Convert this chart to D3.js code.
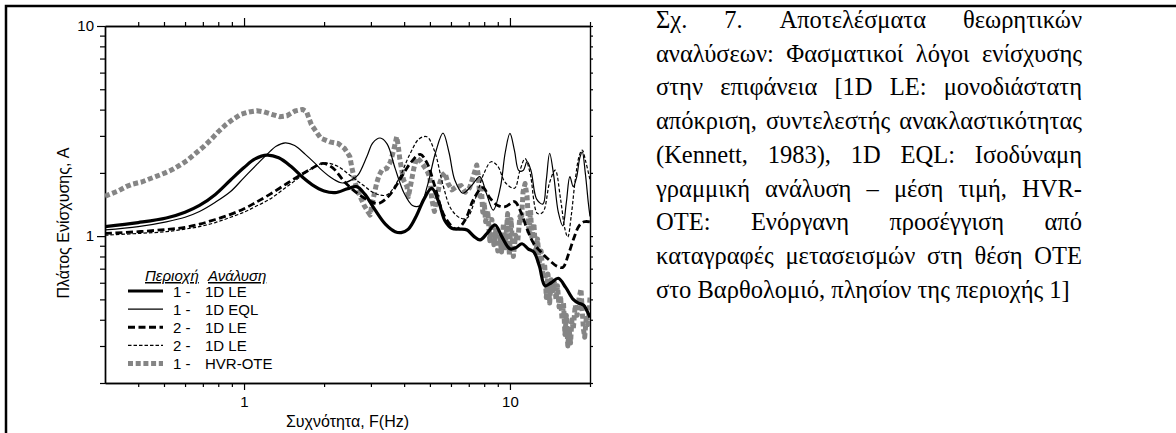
<!DOCTYPE html>
<html>
<head>
<meta charset="utf-8">
<script src="https://cdn.jsdelivr.net/npm/d3@7"></script>
<style>
  body { margin: 0; background: #fff; }
  svg { display: block; }
</style>
</head>
<body>
<svg id="fig" width="1176" height="433"></svg>
<script>
// ---- data: frequency (Hz), amplification A ----
const xDomain = [0.3, 20];
const yDomain = [0.2, 10];
const xMajor = [1, 10];
const yMajor = [1, 10];
const xMinor = [0.4, 0.5, 0.6, 0.7, 0.8, 0.9, 2, 3, 4, 5, 6, 7, 8, 9, 20];
const yMinor = [0.2, 0.3, 0.4, 0.5, 0.6, 0.7, 0.8, 0.9, 2, 3, 4, 5, 6, 7, 8, 9];

// Region 1, 1D LE
const le1 = [[0.30,1.11],[0.40,1.16],[0.51,1.22],[0.60,1.30],[0.68,1.40],[0.78,1.58],[0.89,1.85],[1.00,2.12],[1.10,2.33],[1.22,2.43],[1.35,2.36],[1.50,2.15],[1.65,1.92],[1.80,1.76],[2.00,1.64],[2.20,1.61],[2.45,1.68],[2.65,1.72],[2.85,1.58],[3.10,1.34],[3.40,1.14],[3.70,1.05],[3.90,1.04],[4.15,1.08],[4.45,1.25],[4.75,1.50],[5.08,1.69],[5.40,1.45],[5.70,1.18],[6.04,1.09],[6.45,1.08],[6.90,1.07],[7.30,1.00],[7.72,0.96],[8.20,1.03],[8.79,1.13],[9.30,1.00],[10.0,0.87],[10.5,0.88],[11.1,0.92],[11.7,0.87],[12.3,0.84],[12.9,0.72],[13.55,0.58],[14.3,0.60],[15.2,0.63],[16.2,0.57],[17.3,0.50],[18.1,0.48],[18.9,0.47],[19.5,0.44],[20.0,0.41]];

// Region 1, 1D EQL
const eql1 = [[0.30,1.07],[0.40,1.11],[0.51,1.17],[0.60,1.23],[0.68,1.31],[0.78,1.45],[0.89,1.63],[1.00,1.90],[1.12,2.20],[1.22,2.45],[1.32,2.68],[1.43,2.78],[1.55,2.70],[1.70,2.45],[1.85,2.22],[1.96,2.06],[2.15,1.88],[2.35,1.79],[2.55,1.86],[2.68,1.95],[2.90,2.40],[3.05,2.78],[3.25,2.93],[3.45,2.75],[3.70,2.10],[4.00,1.60],[4.30,1.40],[4.59,1.40],[4.90,1.75],[5.25,2.50],[5.60,3.09],[5.90,2.50],[6.20,1.85],[6.65,1.60],[7.20,1.75],[7.70,1.92],[8.15,1.60],[8.65,1.33],[9.20,1.70],[9.60,2.50],[10.0,3.08],[10.4,2.55],[10.8,2.05],[11.2,2.05],[11.6,2.26],[12.0,2.05],[12.6,1.50],[13.3,1.42],[13.7,1.85],[14.1,2.48],[14.6,1.95],[15.2,1.30],[15.8,1.12],[16.3,1.45],[16.8,1.92],[17.3,1.72],[17.8,1.90],[18.3,2.35],[18.7,2.52],[19.2,2.00],[19.7,1.45],[20.0,1.24]];

// Region 2, 1D LE (first model)
const le2a = [[0.30,1.03],[0.40,1.05],[0.51,1.076],[0.60,1.10],[0.68,1.14],[0.78,1.20],[0.89,1.27],[1.00,1.35],[1.10,1.44],[1.25,1.58],[1.45,1.78],[1.66,1.98],[1.80,2.10],[1.98,2.22],[2.15,2.12],[2.40,1.80],[2.70,1.58],[3.00,1.46],[3.20,1.43],[3.50,1.55],[3.85,1.85],[4.25,2.25],[4.60,2.45],[4.90,2.20],[5.20,1.75],[5.70,1.23],[6.30,1.08],[6.80,1.20],[7.30,1.50],[7.90,1.70],[8.40,1.52],[9.00,1.40],[9.60,1.38],[10.4,1.46],[11.0,1.30],[11.6,1.08],[12.3,0.92],[13.2,0.83],[14.2,0.76],[15.0,0.72],[15.8,0.71],[16.6,0.82],[17.4,0.98],[18.2,1.12],[19.0,1.17],[20.0,1.17]];

// Region 2, 1D LE (second model)
const le2b = [[0.30,1.01],[0.40,1.03],[0.51,1.05],[0.60,1.08],[0.68,1.11],[0.78,1.16],[0.89,1.23],[1.00,1.30],[1.10,1.38],[1.25,1.50],[1.45,1.72],[1.66,1.95],[1.85,2.15],[2.02,2.23],[2.25,2.15],[2.50,1.95],[2.80,1.75],[3.10,1.60],[3.44,1.57],[3.80,1.85],[4.20,2.45],[4.55,2.90],[4.87,2.97],[5.20,2.55],[5.60,1.75],[6.00,1.35],[6.50,1.22],[6.90,1.22],[7.40,1.50],[8.00,2.00],[8.50,2.26],[9.00,2.15],[9.60,1.80],[10.4,1.69],[10.9,2.05],[11.4,2.34],[11.9,2.00],[12.7,1.28],[13.3,1.30],[14.1,1.80],[14.8,2.06],[15.5,1.50],[16.1,1.08],[16.5,0.99],[17.0,1.25],[17.6,1.85],[18.2,2.40],[18.7,2.57],[19.3,2.25],[20.0,1.85]];

// Region 1, HVR-OTE (aftershock records)
const hvr = [[0.30,1.55],[0.336,1.64],[0.36,1.72],[0.382,1.77],[0.412,1.81],[0.44,1.87],[0.47,1.93],[0.505,2.00],[0.54,2.08],[0.575,2.18],[0.614,2.30],[0.658,2.48],[0.703,2.66],[0.751,2.88],[0.80,3.14],[0.856,3.40],[0.909,3.60],[0.974,3.80],[1.044,3.90],[1.116,3.95],[1.19,3.90],[1.27,3.80],[1.36,3.70],[1.45,3.74],[1.555,3.94],[1.66,4.01],[1.72,3.90],[1.79,3.40],[1.94,2.93],[2.10,2.81],[2.26,2.76],[2.39,2.61],[2.50,2.39],[2.54,2.14],[2.58,1.95],[2.61,1.81],[2.72,1.56],[2.83,1.40],[2.93,1.30],[2.98,1.26],[3.04,1.45],[3.10,1.62],[3.15,1.78],[3.22,1.95],[3.30,2.06],[3.44,2.10],[3.55,2.25],[3.65,2.55],[3.75,2.97],[3.80,2.70],[3.85,2.34],[3.92,2.06],[3.98,1.85],[4.10,1.72],[4.15,1.54],[4.25,1.80],[4.35,2.10],[4.46,2.36],[4.60,2.28],[4.75,2.15],[4.90,2.02],[5.00,1.90],[5.08,1.50],[5.20,1.31],[5.30,1.50],[5.45,1.80],[5.60,1.96],[5.70,2.00],[5.85,1.78],[6.05,1.66],[6.30,1.72],[6.55,1.74],[6.80,1.62],[7.05,1.70],[7.30,1.95],[7.50,2.18],[7.60,1.95],[7.70,1.55],[7.80,1.75],[7.90,1.30],[8.00,1.45],[8.10,1.17],[8.25,1.32],[8.40,0.95],[8.55,1.20],[8.70,0.91],[8.85,1.07],[9.00,0.85],[9.15,0.99],[9.30,0.84],[9.45,1.15],[9.60,0.88],[9.80,1.28],[9.95,0.81],[10.1,1.20],[10.3,0.80],[10.5,1.01],[10.7,0.95],[10.9,1.24],[11.05,1.19],[11.2,1.62],[11.4,1.78],[11.6,1.54],[11.8,1.03],[11.95,1.33],[12.1,0.97],[12.3,1.15],[12.5,0.83],[12.7,0.97],[12.9,0.74],[13.1,0.85],[13.3,0.66],[13.5,0.74],[13.7,0.51],[13.9,0.66],[14.1,0.48],[14.3,0.62],[14.5,0.55],[14.7,0.60],[14.9,0.50],[15.1,0.58],[15.3,0.46],[15.5,0.52],[15.7,0.40],[15.9,0.48],[16.1,0.34],[16.3,0.42],[16.5,0.30],[16.7,0.36],[16.9,0.31],[17.1,0.40],[17.3,0.36],[17.6,0.47],[17.9,0.42],[18.2,0.51],[18.5,0.56],[18.7,0.44],[18.9,0.36],[19.1,0.33],[19.4,0.42],[19.7,0.38],[20.0,0.51]];

// legend entries
const legendRegion = ["1", "1", "2", "2", "1"];
const legendMethod = ["1D LE", "1D EQL", "1D LE", "1D LE", "HVR-OTE"];
const legendHeader = ["Περιοχή", "Ανάλυση"];

const xTitle = "Συχνότητα, F(Hz)";
const yTitle = "Πλάτος Ενίσχυσης, A";

const captionLines = [
  "Σχ. 7. Αποτελέσματα θεωρητικών",
  "αναλύσεων: Φασματικοί λόγοι ενίσχυσης",
  "στην επιφάνεια [1D LE: μονοδιάστατη",
  "απόκριση, συντελεστής ανακλαστικότητας",
  "(Kennett, 1983), 1D EQL: Ισοδύναμη",
  "γραμμική ανάλυση – μέση τιμή, HVR-",
  "OTE: Ενόργανη προσέγγιση από",
  "καταγραφές μετασεισμών στη θέση OTE",
  "στο Βαρθολομιό, πλησίον της περιοχής 1]"
];

// ---- drawing ----
const svg = d3.select("#fig");
const W = 1176, H = 433;
const plot = { left: 105, right: 590, top: 26, bottom: 383 };
const sans = "'Liberation Sans', Arial, sans-serif";
const serif = "'Liberation Serif', 'Times New Roman', 'DejaVu Serif', serif";

// figure frame
svg.append("path")
  .attr("d", `M6,${H + 2} V6 H${W + 2}`)
  .attr("fill", "none").attr("stroke", "#000").attr("stroke-width", 2.5);

const x = d3.scaleLog().domain(xDomain).range([plot.left, plot.right]);
const y = d3.scaleLog().domain(yDomain).range([plot.bottom, plot.top]);

function styleAxis(g) {
  g.select(".domain").attr("stroke", "#000").attr("stroke-width", 1.4);
  g.selectAll(".tick line").attr("stroke", "#000").attr("stroke-width", 1.2);
  g.selectAll("text").attr("font-family", sans).attr("font-size", 15).attr("fill", "#000");
}
const noLabel = () => "";

// bottom axis
svg.append("g").attr("transform", `translate(0,${plot.bottom})`)
  .call(d3.axisBottom(x).tickValues(xMinor).tickSize(4).tickSizeOuter(0).tickFormat(noLabel)).call(styleAxis);
svg.append("g").attr("transform", `translate(0,${plot.bottom})`)
  .call(d3.axisBottom(x).tickValues(xMajor).tickSize(7).tickSizeOuter(0).tickPadding(6).tickFormat(d3.format("d"))).call(styleAxis);
// top axis
svg.append("g").attr("transform", `translate(0,${plot.top})`)
  .call(d3.axisTop(x).tickValues(xMinor).tickSize(4).tickSizeOuter(0).tickFormat(noLabel)).call(styleAxis);
svg.append("g").attr("transform", `translate(0,${plot.top})`)
  .call(d3.axisTop(x).tickValues(xMajor).tickSize(8).tickSizeOuter(0).tickFormat(noLabel)).call(styleAxis);
// left axis
svg.append("g").attr("transform", `translate(${plot.left},0)`)
  .call(d3.axisLeft(y).tickValues(yMinor).tickSize(5).tickSizeOuter(0).tickFormat(noLabel)).call(styleAxis);
svg.append("g").attr("transform", `translate(${plot.left},0)`)
  .call(d3.axisLeft(y).tickValues(yMajor).tickSize(8).tickSizeOuter(0).tickPadding(3).tickFormat(d3.format("d"))).call(styleAxis);
// right axis
svg.append("g").attr("transform", `translate(${plot.right},0)`)
  .call(d3.axisRight(y).tickValues(yMinor.concat(yMajor)).tickSize(3).tickSizeOuter(0).tickFormat(noLabel)).call(styleAxis);

// axis titles
svg.append("text")
  .attr("x", (plot.left + plot.right) / 2).attr("y", 427)
  .attr("text-anchor", "middle").attr("font-family", sans).attr("font-size", 16)
  .text(xTitle);
svg.append("text")
  .attr("transform", "translate(69,223) rotate(-90)")
  .attr("text-anchor", "middle").attr("font-family", sans).attr("font-size", 16)
  .text(yTitle);

// series styles
const series = [
  { data: le1,  stroke: "#000",    width: 3.2, dash: null },
  { data: eql1, stroke: "#000",    width: 1.2, dash: null },
  { data: le2a, stroke: "#000",    width: 2.8, dash: "7,3.5" },
  { data: le2b, stroke: "#000",    width: 1.2, dash: "3.5,2" },
  { data: hvr,  stroke: "#858585", width: 5,   dash: "5,2.7" }
];

svg.append("clipPath").attr("id", "plotclip").append("rect")
  .attr("x", plot.left).attr("y", plot.top)
  .attr("width", plot.right - plot.left).attr("height", plot.bottom - plot.top);

const smooth = d3.line().x(d => x(d[0])).y(d => y(d[1])).curve(d3.curveCatmullRom.alpha(0.5));
const straight = d3.line().x(d => x(d[0])).y(d => y(d[1]));

const gLines = svg.append("g").attr("clip-path", "url(#plotclip)");
// draw HVR first so the model curves sit on top
[4, 3, 2, 1, 0].forEach(i => {
  const s = series[i];
  gLines.append("path")
    .attr("d", (i === 4 ? straight : smooth)(s.data))
    .attr("fill", "none")
    .attr("stroke", s.stroke)
    .attr("stroke-width", s.width)
    .attr("stroke-dasharray", s.dash)
    .attr("stroke-linejoin", "round");
});

// legend
const lg = svg.append("g").attr("font-family", sans).attr("font-size", 15);
const hdr = lg.append("g").attr("font-style", "italic").attr("text-decoration", "underline");
hdr.append("text").attr("x", 145).attr("y", 281).text(legendHeader[0]);
hdr.append("text").attr("x", 208).attr("y", 281).text(legendHeader[1]);
const rowY = d3.scaleLinear().domain([0, 4]).range([291, 363.5]);
legendMethod.forEach((m, i) => {
  const s = series[i];
  const yy = rowY(i);
  lg.append("line")
    .attr("x1", 128).attr("x2", 163).attr("y1", yy).attr("y2", yy)
    .attr("stroke", s.stroke).attr("stroke-width", s.width)
    .attr("stroke-dasharray", s.dash);
  lg.append("text").attr("x", 173).attr("y", yy + 5.5).text(legendRegion[i] + "  -");
  lg.append("text").attr("x", 205).attr("y", yy + 5.5).text(m);
});

// caption block, justified; font size chosen so the last (unjustified) line spans ~414px
const cap = { left: 656, right: 1082, top: 28, lead: 33.7, lastWidth: 414 };
const probe = svg.append("text").attr("font-family", serif).attr("font-size", 24)
  .text(captionLines[captionLines.length - 1]);
const capSize = 24 * cap.lastWidth / probe.node().getComputedTextLength();
probe.remove();
const cg = svg.append("g").attr("font-family", serif).attr("font-size", capSize).attr("fill", "#000");
captionLines.forEach((line, li) => {
  const words = line.split(" ");
  const by = cap.top + li * cap.lead;
  const nodes = words.map(w => cg.append("text").attr("y", by).text(w));
  const widths = nodes.map(n => n.node().getComputedTextLength());
  const total = d3.sum(widths);
  const last = li === captionLines.length - 1;
  const space = capSize * 0.25;
  const gap = last || words.length < 2 ? space : (cap.right - cap.left - total) / (words.length - 1);
  let cx = cap.left;
  nodes.forEach((n, k) => { n.attr("x", cx); cx += widths[k] + gap; });
});
</script>
</body>
</html>
